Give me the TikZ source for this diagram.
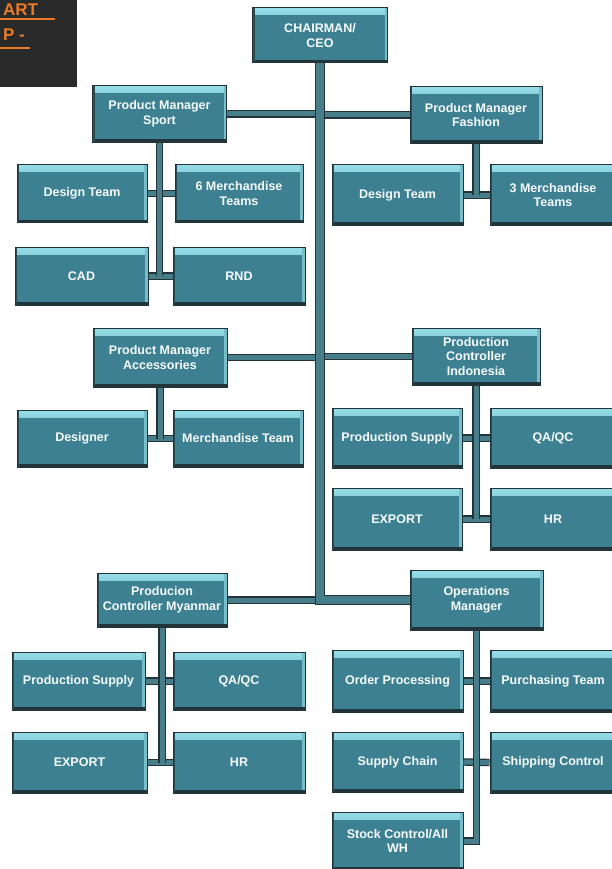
\documentclass[tikz,border=0pt]{standalone}
\usepackage{fontspec}
\setmainfont{Liberation Sans}
\usetikzlibrary{positioning}
\definecolor{boxfill}{RGB}{60,128,146}
\definecolor{boxhi}{RGB}{150,222,232}
\definecolor{boxedge}{RGB}{32,52,58}
\definecolor{linkfill}{RGB}{72,126,138}
\definecolor{titlebg}{RGB}{42,42,42}
\definecolor{titleorange}{RGB}{232,122,40}
\tikzset{
    orgbox/.style = {draw = boxedge, line width = 1pt, fill = boxfill, text = white!92!boxhi,
        font = \fontsize{12.5}{14.5}\selectfont\bfseries, align = center, inner sep = 1pt,
        minimum width = 130pt, minimum height = 58pt,
        path picture = {
            \shade[top color = boxhi, bottom color = boxfill] (path picture bounding box.north west) rectangle ([yshift = -7pt]path picture bounding box.north east);
            \fill[boxhi!65!boxfill] ([xshift = -3pt]path picture bounding box.north east) rectangle (path picture bounding box.south east);
            \fill[boxedge] (path picture bounding box.south west) rectangle ([yshift = 3pt]path picture bounding box.south east);
            \fill[boxedge!70!boxfill] (path picture bounding box.south west) rectangle ([xshift = 2pt]path picture bounding box.north west);
        }},
    mgrbox/.style = {orgbox, minimum width = 134pt, minimum height = 57pt},
    link/.style = {draw = boxedge, line width = 1.2pt, double = linkfill, double distance = 5pt},
    trunk/.style = {link, double distance = 8pt},
    titletext/.style = {text = titleorange, font = \fontsize{17}{17}\selectfont\bfseries, inner sep = 0pt}
}
\begin{document}
\begin{tikzpicture}[x = 1pt, y = -1pt]
    \clip (0, 0) rectangle (612, 869);
    \fill[white] (0, 0) rectangle (612, 869);

    % title corner
    \fill[titlebg] (0, 0) rectangle (77, 87);
    \node[titletext, anchor = base west] (titleart) at (3, 16) {ART};
    \node[titletext, anchor = base west] (titlep) at (3, 41) {P -};
    \draw[titleorange, line width = 2pt] (0, 19) -- (55, 19);
    \draw[titleorange, line width = 2pt] (0, 48) -- (30, 48);

    % top and managers
    \node[mgrbox, minimum width = 135pt, minimum height = 55pt] (ceo) at (320, 35.5) {CHAIRMAN/\\CEO};
    \node[mgrbox] (pmsport) at (159.5, 114) {Product Manager\\Sport};
    \node[mgrbox, minimum width = 132pt] (pmfashion) at (476, 115) {Product Manager\\Fashion};
    \node[mgrbox, minimum height = 59pt] (pmacc) at (160, 357.5) {Product Manager\\Accessories};
    \node[mgrbox, minimum width = 128pt] (pcindo) at (476, 356.5) {Production\\Controller\\Indonesia};
    \node[mgrbox, minimum width = 130pt, minimum height = 54pt] (pcmyan) at (162, 600) {Producion\\Controller Myanmar};
    \node[mgrbox, minimum width = 133pt, minimum height = 60pt] (opm) at (476.5, 600) {Operations\\Manager};

    % sport
    \node[orgbox] (dsgsport) at (82, 193.5) {Design Team};
    \node[orgbox, minimum width = 128pt] (merchsix) at (239, 193.5) {6 Merchandise\\Teams};
    \node[orgbox, minimum width = 133pt] (cad) at (81.5, 276) {CAD};
    \node[orgbox, minimum width = 132pt] (rnd) at (239, 276) {RND};

    % fashion
    \node[orgbox, minimum width = 131pt, minimum height = 60pt] (dsgfashion) at (397.5, 195) {Design Team};
    \node[orgbox, minimum width = 126pt, minimum height = 60pt] (merchthree) at (553, 195) {3 Merchandise\\Teams};

    % accessories
    \node[orgbox, minimum height = 57pt] (designer) at (82, 438.5) {Designer};
    \node[orgbox, minimum height = 57pt] (merchteam) at (238, 438.5) {Merchandise Team};

    % indonesia
    \node[orgbox, minimum height = 60pt] (supplyindo) at (397, 438) {Production Supply};
    \node[orgbox, minimum width = 126pt, minimum height = 60pt] (qaindo) at (553, 438) {QA/QC};
    \node[orgbox, minimum height = 62pt] (exportindo) at (397, 519) {EXPORT};
    \node[orgbox, minimum width = 126pt, minimum height = 62pt] (hrindo) at (553, 519) {HR};

    % myanmar
    \node[orgbox, minimum width = 133pt] (supplymyan) at (78.5, 681) {Production Supply};
    \node[orgbox, minimum width = 132pt] (qamyan) at (239, 681) {QA/QC};
    \node[orgbox, minimum width = 135pt, minimum height = 61pt] (exportmyan) at (79.5, 762.5) {EXPORT};
    \node[orgbox, minimum width = 132pt, minimum height = 61pt] (hrmyan) at (239, 762.5) {HR};

    % operations
    \node[orgbox, minimum width = 131pt, minimum height = 62pt] (orderproc) at (397.5, 681) {Order Processing};
    \node[orgbox, minimum width = 126pt, minimum height = 62pt] (purchasing) at (553, 681) {Purchasing Team};
    \node[orgbox, minimum width = 131pt, minimum height = 60pt] (supplychain) at (397.5, 762) {Supply Chain};
    \node[orgbox, minimum width = 126pt, minimum height = 61pt] (shipping) at (553, 762.5) {Shipping Control};
    \node[orgbox, minimum width = 131pt] (stock) at (397.5, 841) {Stock Control/All\\WH};

    % manager links to the trunk
    \foreach \mgr in {pmsport, pmfashion, pmacc, pcindo, pcmyan}{
        \draw[link] (\mgr) -- (\mgr -| ceo.south);
    }
    \draw[trunk] (ceo.south) |- (opm.west);

    % team links
    \foreach \lt/\rt in {dsgsport/merchsix, cad/rnd, dsgfashion/merchthree, designer/merchteam,
        supplyindo/qaindo, exportindo/hrindo, supplymyan/qamyan, exportmyan/hrmyan,
        orderproc/purchasing, supplychain/shipping}{
        \draw[link] (\lt.east) -- (\rt.west);
    }
    \draw[link] (stock.east) -| (opm.south);
    \draw[link] (pmsport.south) -- (pmsport.south |- cad.east);
    \draw[link] (pmfashion.south) -- (pmfashion.south |- dsgfashion.east);
    \draw[link] (pmacc.south) -- (pmacc.south |- designer.east);
    \draw[link] (pcindo.south) -- (pcindo.south |- exportindo.east);
    \draw[link] (pcmyan.south) -- (pcmyan.south |- exportmyan.east);
\end{tikzpicture}
\end{document}
